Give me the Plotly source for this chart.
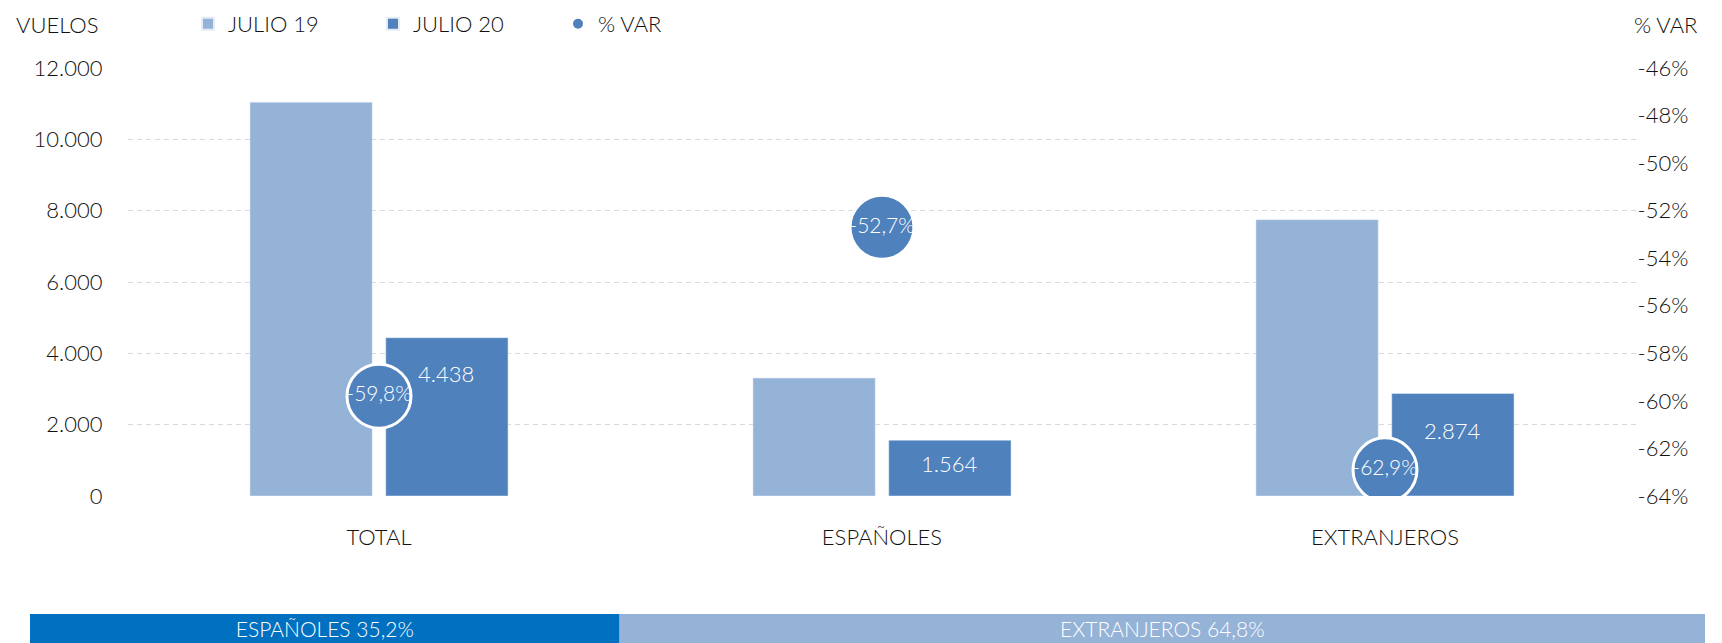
import plotly.graph_objects as go

# ---- data ----
CATEGORIES = ["TOTAL", "ESPAÑOLES", "EXTRANJEROS"]
JULIO_19 = [11040, 3307, 7747]
JULIO_20 = [4438, 1564, 2874]
VAR_PCT = [-59.8, -52.7, -62.9]
SHARE_LABELS = ["ESPAÑOLES", "EXTRANJEROS"]
SHARE_PCT = [35.2, 64.8]
LEFT_TICKS = [0, 2000, 4000, 6000, 8000, 10000, 12000]
RIGHT_TICKS = [-64, -62, -60, -58, -56, -54, -52, -50, -48, -46]
RIGHT_TICK_LABELS = ["%d%%" % v for v in RIGHT_TICKS]

# ---- style ----
C19 = "#95B3D7"
C20 = "#4F81BD"
CBAND1 = "#0070C0"
TXT = "#111111"
FONT = "Lato"
WT = 300
LABEL_DROP = [36, 23, 37]   # px offset of value labels below bar top

# page body has an 8px margin: figure occupies window pixels 8..1722 / 8..643
OFF = 8
W, H = 1722 - OFF, 643 - OFF
ML, MR, MT, MB = 30 - OFF, 17, 68 - OFF, 0
PW, PH = W - ML - MR, H - MT - MB


def px_x(p):
    return (p - OFF - ML) / PW


def px_y(p):
    return (H - MB - (p - OFF)) / PH


def fnt(size, color=TXT):
    return dict(size=size, color=color, family=FONT, weight=WT)


fig = go.Figure()

fig.add_trace(go.Bar(
    name="JULIO 19", x=CATEGORIES, y=JULIO_19, marker_color=C19,
    xaxis="x", yaxis="y", hoverinfo="skip"))
fig.add_trace(go.Bar(
    name="JULIO 20", x=CATEGORIES, y=JULIO_20, marker_color=C20,
    xaxis="x", yaxis="y", hoverinfo="skip"))
fig.add_trace(go.Scatter(
    name="% VAR", x=CATEGORIES, y=VAR_PCT, mode="markers+text",
    xaxis="x", yaxis="y2",
    marker=dict(size=64, color=C20, line=dict(color="white", width=3)),
    text=[("%.1f%%" % v).replace(".", ",") for v in VAR_PCT],
    textposition="middle center",
    textfont=fnt(21, "white"), hoverinfo="skip"))

# bottom share band
base = 0
band_colors = [CBAND1, C19]
for lab, val, col in zip(SHARE_LABELS, SHARE_PCT, band_colors):
    fig.add_trace(go.Bar(
        x=[val], y=["band"], base=[base], orientation="h",
        xaxis="x2", yaxis="y3", offsetgroup="band", width=1,
        marker=dict(color=col, line=dict(width=0)),
        text=[lab + " %s%%" % ("%.1f" % val).replace(".", ",")],
        textposition="inside", insidetextanchor="middle", constraintext="none",
        textfont=dict(size=21, color="white", family=FONT),
        showlegend=False, hoverinfo="skip"))
    base += val

# value labels on JULIO 20 bars
annotations = []
for cat, v, d in zip(CATEGORIES, JULIO_20, LABEL_DROP):
    annotations.append(dict(
        x=cat, y=v, xref="x", yref="y", xshift=67, yshift=-d,
        text=f"{v:,}".replace(",", "."), showarrow=False,
        font=fnt(22, "white")))

annotations.append(dict(x=px_x(101), y=px_y(24), xref="paper", yref="paper",
                        xanchor="right", yanchor="middle", text="VUELOS",
                        showarrow=False, font=fnt(22)))
annotations.append(dict(x=px_x(1632), y=px_y(24), xref="paper", yref="paper",
                        xanchor="left", yanchor="middle", text="% VAR",
                        showarrow=False, font=fnt(22)))

main_dom_x = [px_x(127.5), px_x(1636.5)]
main_dom_y = [px_y(496), 1]

fig.update_layout(
    width=W, height=H,
    margin=dict(l=ML, r=MR, t=MT, b=MB, autoexpand=False),
    paper_bgcolor="white", plot_bgcolor="white",
    separators=",.",
    font=fnt(22),
    barmode="group", bargap=0.46, bargroupgap=0.1,
    annotations=annotations,
    legend=dict(orientation="h", x=px_x(188), y=px_y(24), xanchor="left",
                yanchor="middle", font=fnt(22),
                itemsizing="constant", entrywidth=140, bgcolor="rgba(0,0,0,0)"),
    xaxis=dict(domain=main_dom_x, range=[-0.5, 2.5], type="category",
               showgrid=False, zeroline=False, showline=False, ticks="",
               ticklabelstandoff=26, tickfont=fnt(22)),
    yaxis=dict(domain=main_dom_y, range=[0, 12000], tickvals=LEFT_TICKS,
               tickformat=",d", showgrid=True, gridcolor="#D9D9D9",
               griddash="5px,4px", gridwidth=1, zeroline=False, showline=False,
               ticklabelstandoff=24, tickfont=fnt(22)),
    yaxis2=dict(overlaying="y", side="right", range=[-64, -46],
                tickvals=RIGHT_TICKS, ticktext=RIGHT_TICK_LABELS,
                showgrid=False, zeroline=False, showline=False,
                ticklabelstandoff=0, tickfont=fnt(22)),
    xaxis2=dict(domain=[0, 1], anchor="y3", range=[0, 100], visible=False),
    yaxis3=dict(domain=[0, px_y(614)], anchor="x2", range=[-0.5, 0.5],
                type="category", visible=False),
)

fig.write_html("out.html")
